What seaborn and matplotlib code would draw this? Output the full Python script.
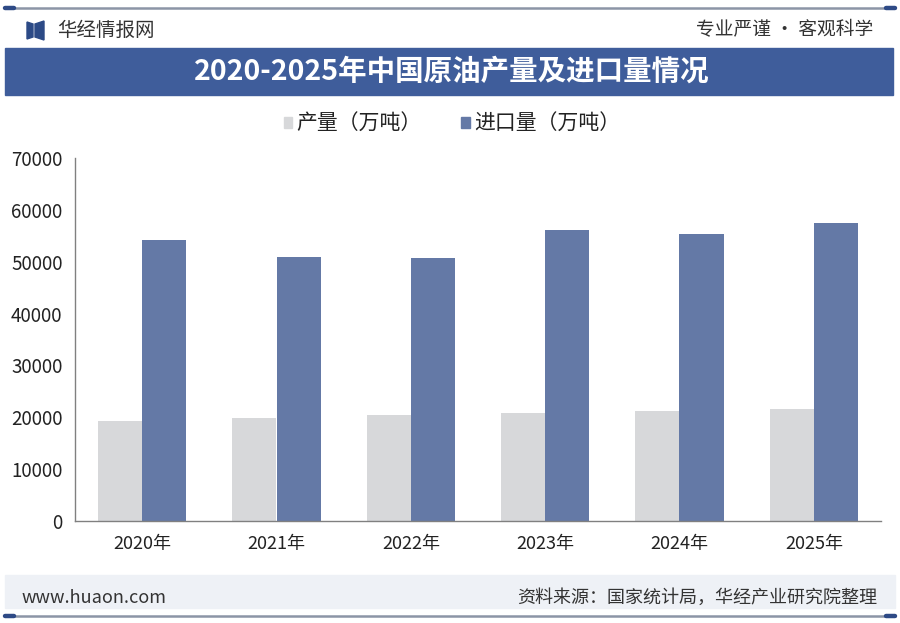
import matplotlib
matplotlib.use("Agg")
import matplotlib.pyplot as plt
import seaborn as sns
import pandas as pd
from matplotlib.patches import Rectangle, Polygon
from matplotlib.lines import Line2D

years = ["2020年", "2021年", "2022年", "2023年", "2024年", "2025年"]
production = [19300, 19850, 20400, 20800, 21300, 21550]
imports = [54100, 51000, 50700, 56100, 55300, 57500]
series_names = ["产量（万吨）", "进口量（万吨）"]
yticks = [0, 10000, 20000, 30000, 40000, 50000, 60000, 70000]

title = "2020-2025年中国原油产量及进口量情况"
brand = "华经情报网"
slogan = "专业严谨 • 客观科学"
website = "www.huaon.com"
source = "资料来源：国家统计局，华经产业研究院整理"

sns.set_theme(style="white")
plt.rcParams['font.family'] = ['Noto Sans CJK SC', 'DejaVu Sans']

df = pd.DataFrame({
    "year": years * 2,
    "value": production + imports,
    "series": [series_names[0]] * len(years) + [series_names[1]] * len(years),
})

W, H = 900, 623
fig = plt.figure(figsize=(9, 6.23), dpi=100)
fig.patch.set_facecolor("white")

def fx(x):
    return x / W

def fy(y):
    return 1 - y / H

# frame lines
fig.add_artist(Line2D([fx(5), fx(895)], [fy(8), fy(8)], color="#8C95A6", lw=1.8))
fig.add_artist(Line2D([fx(5), fx(14)], [fy(8), fy(8)], color="#2E4A86", lw=3.2))
fig.add_artist(Line2D([fx(886), fx(895)], [fy(8), fy(8)], color="#2E4A86", lw=3.2))
fig.add_artist(Line2D([fx(5), fx(895)], [fy(616), fy(616)], color="#8C95A6", lw=1.8))
fig.add_artist(Line2D([fx(5), fx(14)], [fy(616), fy(616)], color="#2E4A86", lw=3.2))
fig.add_artist(Line2D([fx(886), fx(895)], [fy(616), fy(616)], color="#2E4A86", lw=3.2))

# logo
fig.add_artist(Polygon([[fx(27), fy(22)], [fx(33), fy(24)], [fx(33), fy(37)], [fx(27), fy(39)]],
                       closed=True, color="#2C4A86", transform=fig.transFigure))
fig.add_artist(Polygon([[fx(35), fy(24)], [fx(44), fy(21)], [fx(44), fy(40)], [fx(35), fy(37)]],
                       closed=True, color="#2C4A86", transform=fig.transFigure))
fig.text(fx(57), fy(30), brand, fontsize=14, color="#333333", va="center", ha="left")
fig.text(fx(873), fy(30), slogan, fontsize=13.5, color="#333333", va="center", ha="right")

# title band
fig.add_artist(Rectangle((fx(5), fy(95)), fx(888), 47 / H, color="#3F5D9B",
                         transform=fig.transFigure))
fig.text(fx(452), fy(72), title, fontsize=20.5, fontweight="bold", color="white",
         ha="center", va="center")

# footer band
fig.add_artist(Rectangle((fx(5), fy(608)), fx(890), 33 / H, color="#EEF1F6",
                         transform=fig.transFigure))
fig.text(fx(22), fy(598), website, fontsize=13, color="#333333", ha="left", va="center")
fig.text(fx(877), fy(598), source, fontsize=13, color="#333333", ha="right", va="center")

# axes
ax = fig.add_axes([fx(75), fy(521), fx(881) - fx(75), (521 - 158) / H])
ax.set_facecolor("none")
palette = {series_names[0]: "#D7D8DA", series_names[1]: "#6479A6"}
sns.barplot(data=df, x="year", y="value", hue="series", hue_order=series_names,
            palette=palette, width=0.66, gap=0, saturation=1, ax=ax, legend=False,
            edgecolor="none")

ax.set_xlim(-0.5, len(years) - 0.5)
ax.set_ylim(0, 70000)
ax.set_yticks(yticks)
ax.set_yticklabels([str(v) for v in yticks], fontsize=13.5, color="#222222")
ax.set_xticks([i - 0.5 for i in range(len(years) + 1)])
ax.set_xticklabels([])
ax.set_xticks(range(len(years)), minor=True)
ax.set_xticklabels(years, minor=True, fontsize=13, color="#222222")
ax.tick_params(axis="x", which="major", direction="out", length=5, color="#808080", width=1)
ax.tick_params(axis="x", which="minor", length=0, pad=10)
ax.tick_params(axis="y", direction="out", length=5, color="#808080", width=1, pad=4)
ax.set_xlabel("")
ax.set_ylabel("")
for s in ["top", "right"]:
    ax.spines[s].set_visible(False)
for s in ["left", "bottom"]:
    ax.spines[s].set_color("#808080")
    ax.spines[s].set_linewidth(1)

# legend
handles = [Rectangle((0, 0), 1, 1, color=palette[n]) for n in series_names]
fig.legend(handles, series_names, loc="center", bbox_to_anchor=(fx(452), fy(124)),
           ncol=2, frameon=False, fontsize=15, handlelength=0.4, handleheight=0.4,
           handletextpad=0.2, columnspacing=1.9, labelcolor="#222222")

fig.savefig("out.png", dpi=100, facecolor="white")
